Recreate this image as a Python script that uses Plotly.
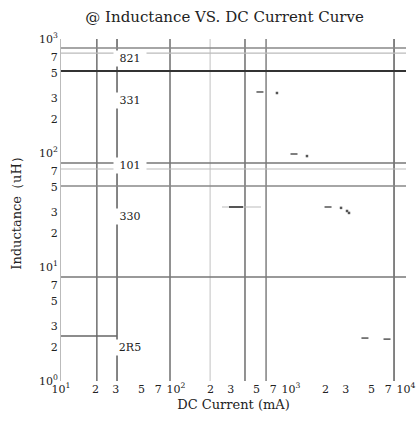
import numpy as np
import plotly.graph_objects as go

# ---- data ----
x_tick_vals = [10, 20, 30, 50, 70, 100, 200, 300, 500, 700, 1000, 2000, 3000, 5000, 7000, 10000]
x_tick_text = ["10<sup>1</sup>", "2", "3", "5", "7", "10<sup>2</sup>", "2", "3", "5", "7",
               "10<sup>3</sup>", "2", "3", "5", "7", "10<sup>4</sup>"]
y_tick_vals = [1, 2, 3, 5, 7, 10, 20, 30, 50, 70, 100, 200, 300, 500, 700, 1000]
y_tick_text = ["10<sup>0</sup>", "2", "3", "5", "7", "10<sup>1</sup>", "2", "3", "5", "7",
               "10<sup>2</sup>", "2", "3", "5", "7", "10<sup>3</sup>"]

# vertical reference lines (DC current, mA)
vline_current = [20.5, 30.7, 88.7, 198, 398, 607, 7870]
# horizontal reference lines (inductance, uH)
hline_inductance = [834, 753, 523, 81.7, 72.4, 51.4, 8.17]
# short line for 2R5
short_line_current = [10, 30.7]
short_line_inductance = [2.48, 2.48]

# part labels
part_labels = ["821", "331", "101", "330", "2R5"]
part_label_inductance = [668, 286, 77, 27.5, 1.95]
part_label_current = [28.4, 28.4, 28.4, 28.4, 28.4]

# curve fragments
dash_current = [537, 1062, 2099, 4396, 6837]
dash_inductance = [343, 98, 33.6, 2.38, 2.33]
dot_current = [755, 1377, 2723, 3070, 3195]
dot_inductance = [336, 94, 33.0, 31.0, 29.8]
seg_light_current = [251, 548]
seg_dark_current = [289, 383]
seg_inductance = [33.6, 33.6]

x_span = [10, 10000]
y_span = [1, 1000]

# ---- styles ----
vline_colors = ["#777", "#666", "#777", "#ccc", "#777", "#888", "#777"]
vline_widths = [1.6, 1.6, 1.6, 1.2, 1.6, 1.6, 1.8]
hline_colors = ["#888", "#bbb", "#333", "#777", "#bbb", "#888", "#777"]
hline_widths = [1.4, 1.2, 2.0, 1.4, 1.2, 1.4, 1.4]

FONT = "DejaVu Serif"

fig = go.Figure()

for v, c, w in zip(vline_current, vline_colors, vline_widths):
    fig.add_trace(go.Scatter(x=[v, v], y=y_span, mode="lines",
                             line=dict(color=c, width=w), hoverinfo="skip", showlegend=False))
for v, c, w in zip(hline_inductance, hline_colors, hline_widths):
    fig.add_trace(go.Scatter(x=x_span, y=[v, v], mode="lines",
                             line=dict(color=c, width=w), hoverinfo="skip", showlegend=False))
fig.add_trace(go.Scatter(x=short_line_current, y=short_line_inductance, mode="lines",
                         line=dict(color="#666", width=1.4), hoverinfo="skip", showlegend=False))

fig.add_trace(go.Scatter(x=seg_light_current, y=seg_inductance, mode="lines",
                         line=dict(color="#bbb", width=1.2), hoverinfo="skip", showlegend=False))
fig.add_trace(go.Scatter(x=seg_dark_current, y=seg_inductance, mode="lines",
                         line=dict(color="#555", width=2), hoverinfo="skip", showlegend=False))
fig.add_trace(go.Scatter(x=dash_current, y=dash_inductance, mode="markers",
                         marker=dict(symbol="line-ew", size=5, line=dict(color="#555", width=1.5)),
                         hoverinfo="skip", showlegend=False))
fig.add_trace(go.Scatter(x=dot_current, y=dot_inductance, mode="markers",
                         marker=dict(symbol="square", size=2.5, color="#555"),
                         hoverinfo="skip", showlegend=False))

for t, xv, yv in zip(part_labels, part_label_current, part_label_inductance):
    fig.add_annotation(x=np.log10(xv), y=np.log10(yv), xref="x", yref="y",
                       text=t, showarrow=False, xanchor="left", yanchor="middle",
                       bgcolor="white", width=30, height=13, align="center",
                       font=dict(family=FONT, size=11, color="#222"))

fig.update_layout(
    width=416, height=429,
    margin=dict(l=61, r=10, t=39, b=48),
    paper_bgcolor="white", plot_bgcolor="white",
    hovermode=False,
    title=dict(text="@ Inductance VS. DC Current Curve", x=0.54, xanchor="center",
               y=0.96, yanchor="middle", font=dict(family=FONT, size=15, color="#222")),
    xaxis=dict(type="log", range=[1, 4], tickvals=x_tick_vals, ticktext=x_tick_text,
               automargin=False,
               showgrid=False, zeroline=False, showline=False, ticks="",
               tickfont=dict(family=FONT, size=11, color="#222"),
               title=dict(text="DC Current (mA)", standoff=4,
                          font=dict(family=FONT, size=13, color="#222"))),
    yaxis=dict(type="log", range=[0, 3], tickvals=y_tick_vals, ticktext=y_tick_text,
               automargin=False,
               showgrid=False, zeroline=False, showline=True, linecolor="#bbb", linewidth=1,
               ticks="", tickfont=dict(family=FONT, size=11, color="#222"),
               title=dict(text="Inductance（uH）", standoff=14,
                          font=dict(family=FONT, size=13, color="#222"))),
)

fig.write_html("out.html", config={"displayModeBar": False},
               post_script="document.body.style.margin='0';document.body.style.overflow='hidden';")
